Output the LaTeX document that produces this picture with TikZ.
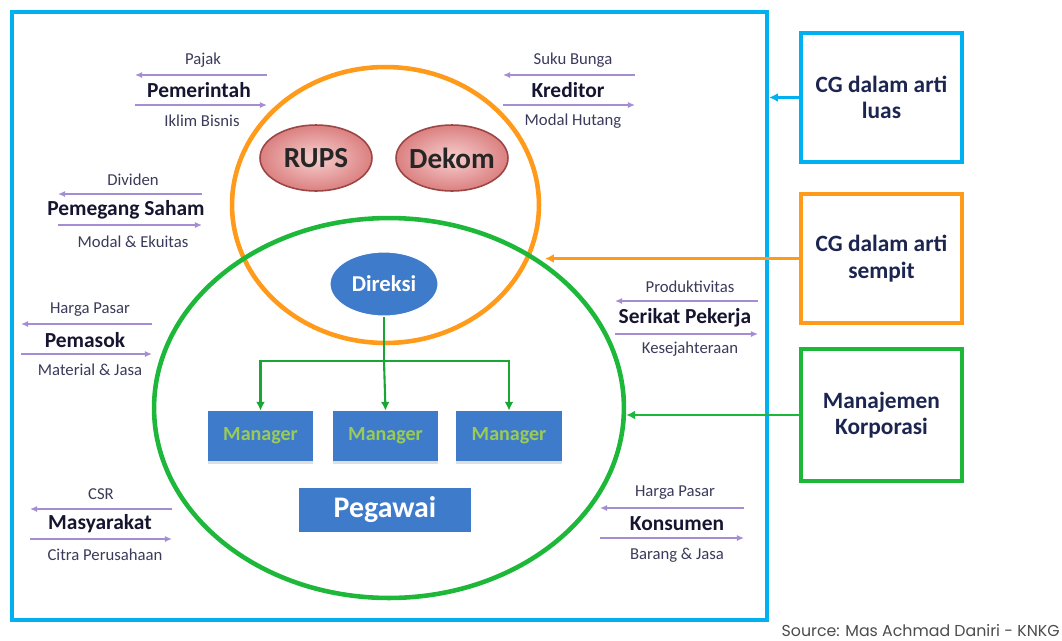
\documentclass[tikz,border=0pt]{standalone}
\usepackage{fontspec}
\setmainfont{Carlito}
\newfontfamily\srcfont{Poppins}
\usetikzlibrary{shapes.geometric,arrows.meta,shadows}
\definecolor{cyanC}{HTML}{00B0F0}
\definecolor{orangeC}{HTML}{FF9A1A}
\definecolor{greenC}{HTML}{1DB83A}
\definecolor{purpleC}{HTML}{A48DD3}
\definecolor{blueC}{HTML}{3E7CCB}
\definecolor{mgrtxt}{HTML}{9CCB55}
\definecolor{lbltxt}{HTML}{3A3A5A}
\definecolor{boldtxt}{HTML}{151530}
\definecolor{navy}{HTML}{1C2550}
\definecolor{pinkin}{HTML}{F7CFCF}
\definecolor{pinkout}{HTML}{DB8080}
\definecolor{pinkbd}{HTML}{9C4545}
\tikzset{
  small/.style={font=\fontsize{9.5}{11}\selectfont, text=lbltxt, inner sep=0pt},
  bigl/.style={font=\fontsize{12.2}{14}\selectfont\bfseries, text=boldtxt, inner sep=0pt},
  parr/.style={draw=purpleC, line width=0.8pt, -{Latex[length=4pt,width=3.5pt]}},
  garr/.style={draw=greenC!90!black, line width=1.2pt, -{Latex[length=5pt,width=5pt]}},
  sidebox/.style={draw, line width=2pt, minimum width=3.22cm, minimum height=2.58cm, align=center,
     font=\fontsize{13.3}{15}\selectfont\bfseries, text=navy},
  pinkell/.style={ellipse, draw=pinkbd, line width=0.9pt, inner color=pinkin, outer color=pinkout,
     inner xsep=-2.6pt, inner ysep=0pt,
     minimum width=2.24cm, minimum height=1.32cm, font=\fontsize{16.6}{18}\selectfont\bfseries, text=black!85},
  mgr/.style={rectangle, fill=blueC, minimum width=2.12cm, minimum height=1.0cm,
     font=\fontsize{11.4}{13}\selectfont\bfseries, text=mgrtxt,
     drop shadow={shadow xshift=0pt, shadow yshift=-1.8pt, opacity=0.25}},
}
\begin{document}
\begin{tikzpicture}[x=0.02cm,y=-0.02cm]
\useasboundingbox (0,0) rectangle (1062,640);
% outer frame
\node[draw=cyanC, line width=2.4pt, minimum width=15.1cm, minimum height=12.16cm, inner sep=0pt] (outer) at (389.5,316) {};
% ellipses
\node[ellipse, draw=orangeC, line width=2.6pt, minimum width=6.14cm, minimum height=5.52cm, inner sep=0pt] (orange) at (385.5,205) {};
\node[ellipse, draw=greenC, line width=2.6pt, minimum width=9.4cm, minimum height=7.6cm, inner sep=0pt] (green) at (389,408) {};
% inner nodes
\node[pinkell] (rups) at (316,158) {RUPS};
\node[pinkell] (dekom) at (452,158) {Dekom};
\node[ellipse, fill=blueC, draw=white, line width=0.6pt, minimum width=2.16cm, minimum height=1.28cm,
  font=\fontsize{12.9}{14}\selectfont\bfseries, text=white] (direksi) at (384,284) {Direksi};
\node[mgr] (m1) at (260.5,436) {Manager};
\node[mgr] (m2) at (385.5,436) {Manager};
\node[mgr] (m3) at (509,436) {Manager};
\node[rectangle, fill=blueC, minimum width=3.44cm, minimum height=0.88cm,
  font=\fontsize{17}{19}\selectfont\bfseries, text=white] (pegawai) at (385,510) {Pegawai};
\coordinate (split) at (384,361);
\draw[draw=greenC!90!black, line width=1.2pt] (direksi.south) -- (split);
\draw[garr] (split) -- (m2.north);
\draw[garr] (split) -| (m1.north);
\draw[garr] (split) -| (m3.north);
% side boxes
\node[sidebox, draw=cyanC] (luas) at (881.5,97.5) {CG dalam arti\\luas};
\node[sidebox, draw=orangeC] (sempit) at (881.5,258.5) {CG dalam arti\\sempit};
\node[sidebox, draw=greenC, minimum height=2.64cm] (manaj) at (881.5,415) {Manajemen\\Korporasi};
\draw[draw=cyanC, line width=1.2pt, -{Latex[length=5pt,width=5pt]}] (luas.west) -- (luas.west -| outer.east);
\coordinate (otip) at (545,258.5);
\draw[draw=orangeC, line width=1.2pt, -{Latex[length=5pt,width=5pt]}] (sempit.west) -- (otip);
\draw[draw=greenC, line width=1.2pt, -{Latex[length=5pt,width=5pt]}] (manaj.west) -- (manaj.west -| green.east);
% stakeholders
% Pemerintah
\node[small] (pajak) at (203,60) {Pajak};
\node[bigl] (pemerintah) at (199,90) {Pemerintah};
\node[small] (iklim) at (202,121) {Iklim Bisnis};
\coordinate (a1l) at (135,75); \coordinate (a1r) at (267,75);
\coordinate (b1l) at (135,105); \coordinate (b1r) at (267,105);
\draw[parr] (a1r) -- (a1l); \draw[parr] (b1l) -- (b1r);
% Kreditor
\node[small] (suku) at (573,60) {Suku Bunga};
\node[bigl] (kreditor) at (568,90) {Kreditor};
\node[small] (modalh) at (573,121) {Modal Hutang};
\coordinate (a2l) at (503,75); \coordinate (a2r) at (635,75);
\coordinate (b2l) at (503,105); \coordinate (b2r) at (635,105);
\draw[parr] (a2r) -- (a2l); \draw[parr] (b2l) -- (b2r);
% Pemegang Saham
\node[small] (dividen) at (133,180) {Dividen};
\node[bigl] (saham) at (126,210) {Pemegang Saham};
\node[small] (modale) at (133,242) {Modal \& Ekuitas};
\coordinate (a3l) at (58,194); \coordinate (a3r) at (202,194);
\coordinate (b3l) at (58,225); \coordinate (b3r) at (202,225);
\draw[parr] (a3r) -- (a3l); \draw[parr] (b3l) -- (b3r);
% Pemasok
\node[small] (harga1) at (90,310) {Harga Pasar};
\node[bigl] (pemasok) at (85,340) {Pemasok};
\node[small] (material) at (90,370) {Material \& Jasa};
\coordinate (a4l) at (21,324); \coordinate (a4r) at (152,324);
\coordinate (b4l) at (21,354); \coordinate (b4r) at (152,354);
\draw[parr] (a4r) -- (a4l); \draw[parr] (b4l) -- (b4r);
% Serikat Pekerja
\node[small] (produk) at (690,287) {Produktivitas};
\node[bigl] (serikat) at (685,318) {Serikat Pekerja};
\node[small] (sejahtera) at (690,349) {Kesejahteraan};
\coordinate (a5l) at (615,301); \coordinate (a5r) at (758,301);
\coordinate (b5l) at (615,334); \coordinate (b5r) at (758,334);
\draw[parr] (a5r) -- (a5l); \draw[parr] (b5l) -- (b5r);
% Masyarakat
\node[small] (csr) at (101,494) {CSR};
\node[bigl] (masyarakat) at (100,524) {Masyarakat};
\node[small] (citra) at (105,555) {Citra Perusahaan};
\coordinate (a6l) at (30,509); \coordinate (a6r) at (172,509);
\coordinate (b6l) at (30,539); \coordinate (b6r) at (172,539);
\draw[parr] (a6r) -- (a6l); \draw[parr] (b6l) -- (b6r);
% Konsumen
\node[small] (harga2) at (675,493) {Harga Pasar};
\node[bigl] (konsumen) at (677,524) {Konsumen};
\node[small] (barang) at (677,555) {Barang \& Jasa};
\coordinate (a7l) at (600,508); \coordinate (a7r) at (744,508);
\coordinate (b7l) at (600,538); \coordinate (b7r) at (744,538);
\draw[parr] (a7r) -- (a7l); \draw[parr] (b7l) -- (b7r);
% source
\node[inner sep=0pt, anchor=east, font=\srcfont\fontsize{9}{10}\selectfont, text=black!70] (source) at (1060,631) {Source: Mas Achmad Daniri - KNKG};
\end{tikzpicture}
\end{document}
